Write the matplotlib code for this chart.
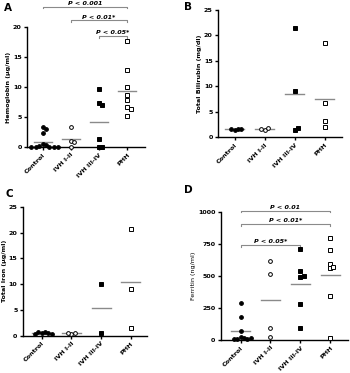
import matplotlib
matplotlib.use("Agg")
import matplotlib.pyplot as plt
import numpy as np

# ---------------------------------------------------------------------------
# DATA
# ---------------------------------------------------------------------------
groups = ["Control", "IVH I-II", "IVH III-IV", "PHH"]

hb_control = [3.3, 3.0, 2.3, 0.5, 0.4, 0.1, 0.0, 0.0, 0.0, 0.0, 0.0]
hb_ivh12 = [3.3, 1.0, 0.8, 0.0]
hb_ivh34 = [9.7, 7.4, 7.0, 1.4, 0.0, 0.0]
hb_phh = [17.7, 12.8, 10.0, 8.6, 7.9, 6.6, 6.3, 5.1]

bil_control = [1.5, 1.6, 1.6, 1.6]
bil_ivh12 = [1.5, 1.9, 1.7]
bil_ivh34 = [21.5, 9.0, 1.4, 1.9]
bil_phh = [18.4, 6.8, 3.1, 2.1]

fe_control = [0.5, 0.8, 0.7, 0.6, 0.3, 0.4]
fe_ivh12 = [0.4, 0.5, 0.45]
fe_ivh34 = [10.0, 0.6]
fe_phh = [20.7, 9.0, 1.4]

fer_control = [286, 182, 70, 20, 12, 10, 8, 10, 12]
fer_ivh12 = [620, 516, 96, 26]
fer_ivh34 = [708, 542, 490, 500, 281, 96]
fer_phh = [796, 702, 593, 561, 567, 345, 18]

# significance brackets: (group from, group to, height, label)
hb_sig = [(0, 3, 23.4, "P < 0.001"), (1, 3, 21.1, "P < 0.01*"), (2, 3, 18.45, "P < 0.05*")]
fer_sig = [(0, 3, 1010, "P < 0.01"), (0, 3, 904, "P < 0.01*"), (0, 2, 740, "P < 0.05*")]

# ---------------------------------------------------------------------------
# STYLE
# ---------------------------------------------------------------------------
markers = [("o", "black"), ("o", "white"), ("s", "black"), ("s", "white")]
grey = "#8a8a8a"
fs = 4.6


def swarm(vals, span, h_px, sp_px, diam=3.3):
    placed = []
    offs = []
    for v in vals:
        ypx = v / span * h_px
        cand = [0]
        for k in range(1, 12):
            cand += [k * diam * 0.5, -k * diam * 0.5]
        for c in cand:
            if all((c - px) ** 2 + (ypx - py) ** 2 >= diam ** 2 for px, py in placed):
                break
        placed.append((c, ypx))
        offs.append(c / sp_px)
    return np.array(offs)


def panel(rect, data, ylim, yticks, ylabel, xlim, letter, lpos, sig=None,
          label_bold=True):
    ax = fig.add_axes(rect)
    h_px = rect[3] * 373
    sp_px = rect[2] * 350 / (xlim[1] - xlim[0])
    for i, vals in enumerate(data):
        m, fc = markers[i]
        offs = swarm(vals, ylim[1] - ylim[0], h_px, sp_px)
        ax.plot(i + offs, vals, ls="none", marker=m, ms=2.7, mfc=fc,
                mec="black", mew=0.7, clip_on=False, zorder=3)
        mu = np.mean(vals)
        ax.plot([i - 0.32, i + 0.32], [mu, mu], color=grey, lw=1.0, zorder=2)
    ax.set_xlim(*xlim)
    ax.set_ylim(*ylim)
    ax.set_yticks(yticks)
    ax.set_xticks(range(len(groups)))
    ax.set_xticklabels(groups, rotation=45, ha="right", rotation_mode="anchor",
                       fontsize=fs, fontweight="bold")
    for t in ax.get_yticklabels():
        t.set_fontsize(fs)
        t.set_fontweight("bold")
    ax.set_ylabel(ylabel, fontsize=fs, fontweight="bold" if label_bold else "normal",
                  labelpad=1.5)
    for s in ["top", "right"]:
        ax.spines[s].set_visible(False)
    for s in ["left", "bottom"]:
        ax.spines[s].set_linewidth(1.0)
    ax.tick_params(length=2.5, width=1.0, pad=1.2)
    if sig:
        tk = (ylim[1] - ylim[0]) * 0.012
        for a, b, y, lab in sig:
            ax.plot([a, a, b, b], [y - tk, y, y, y - tk], color=grey, lw=0.8,
                    clip_on=False)
            ax.text((a + b) / 2, y + tk * 0.6, lab, ha="center", va="bottom",
                    fontsize=fs, fontweight="bold", style="italic", clip_on=False)
    fig.text(lpos[0] / 350, 1 - lpos[1] / 373, letter, fontsize=7.5,
             fontweight="bold", ha="left", va="center")
    return ax


fig = plt.figure(figsize=(3.5, 3.73), dpi=100)

panel([27 / 350, 1 - 147 / 373, 118 / 350, 120 / 373],
      [hb_control, hb_ivh12, hb_ivh34, hb_phh], (0, 20), [0, 5, 10, 15, 20],
      "Hemoglobin (µg/ml)", (-0.557, 3.63), "A", (4, 8), sig=hb_sig)

panel([218 / 350, 1 - 137.3 / 373, 124 / 350, 127.6 / 373],
      [bil_control, bil_ivh12, bil_ivh34, bil_phh], (0, 25), [0, 5, 10, 15, 20, 25],
      "Total Bilirubin (mg/dl)", (-0.557, 3.57), "B", (184, 7))

panel([22.7 / 350, 1 - 335.7 / 373, 124 / 350, 128.7 / 373],
      [fe_control, fe_ivh12, fe_ivh34, fe_phh], (0, 25), [0, 5, 10, 15, 20, 25],
      "Total Iron (µg/ml)", (-0.64, 3.54), "C", (5, 194))

panel([220.7 / 350, 1 - 340 / 373, 127.3 / 350, 128 / 373],
      [fer_control, fer_ivh12, fer_ivh34, fer_phh], (0, 1000), [0, 250, 500, 750, 1000],
      "Ferritin (ng/ml)", (-0.67, 3.6), "D", (184, 190), sig=fer_sig,
      label_bold=False)

fig.savefig("out.png", dpi=100)
